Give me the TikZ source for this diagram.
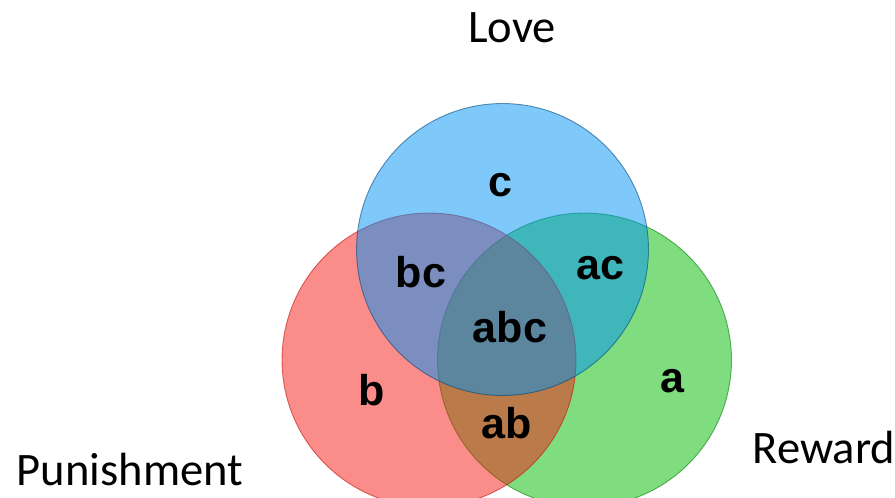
\documentclass[tikz,border=0pt]{standalone}
\usepackage{fontspec}
\setmainfont{Carlito}
\newfontfamily\setfont{Liberation Sans}
\usepackage{tikz}
\usetikzlibrary{calc}

\definecolor{lovecol}{RGB}{0,145,245}
\definecolor{puncol}{RGB}{245,25,20}
\definecolor{rewcol}{RGB}{0,185,0}

\tikzset{
	setcircle/.style={fill opacity=0.5, draw opacity=0.6, line width=0.5pt},
	region/.style={anchor=base, inner sep=0pt, font=\setfont\bfseries\fontsize{24.5}{28}\selectfont},
	title/.style={anchor=base, inner sep=0pt, font=\fontsize{26.5}{30}\selectfont}
}

\begin{document}
\begin{tikzpicture}[x=0.02cm,y=0.02cm]
		\useasboundingbox (0,0) rectangle (895,497);
		\coordinate (cR) at (584.5,137);
		\coordinate (cP) at (429,137);
		\coordinate (cL) at (502.5,247.5);
		% sets, drawn back to front
		\filldraw[setcircle, fill=rewcol, draw=rewcol!70!black] (cR) circle (2.94cm);
		\filldraw[setcircle, fill=puncol, draw=puncol!80!black] (cP) circle (2.94cm);
		\filldraw[setcircle, fill=lovecol, draw=lovecol!50!black] (cL) circle (2.92cm);
		\node[region] (c) at (500,300) {c};
		\node[region] (bc) at (421,209) {bc};
		\node[region] (ac) at (600,217) {ac};
		\node[region] (abc) at (510,154) {abc};
		\node[region] (b) at (372,92) {b};
		\node[region] (a) at (672,105) {a};
		\node[region] (ab) at (507,59) {ab};
		\node[title] (love) at (512,454) {Love};
		\node[title] (punish) at (130,12) {Punishment};
		\node[title] (reward) at (824,34) {Reward};
		\end{tikzpicture}
\end{document}
